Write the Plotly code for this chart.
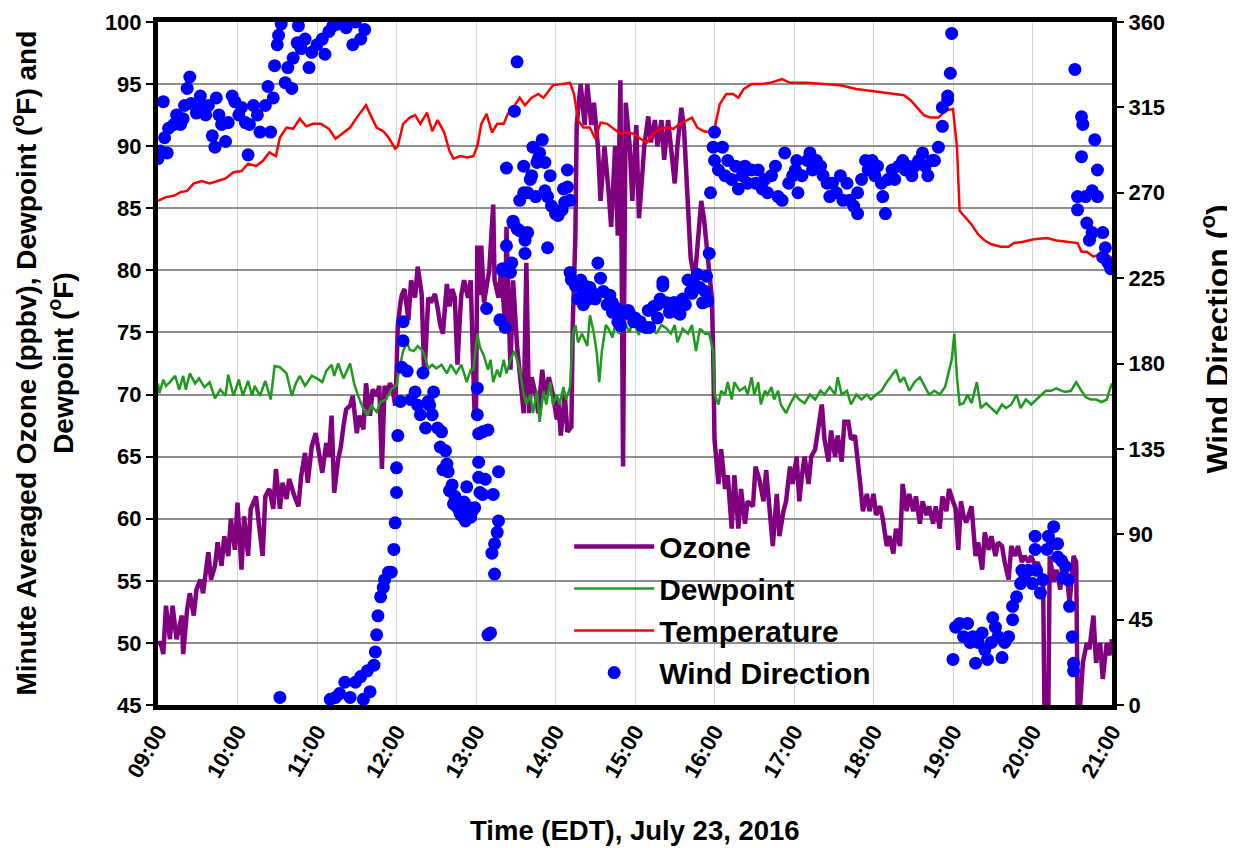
import pandas as pd
import plotly.graph_objects as go

BASE = pd.Timestamp("2016-07-23 09:00")

# ---------------- data (minutes after 09:00 EDT, value) ----------------
ozone_min = [0, 2, 4, 6, 9, 11, 14, 16, 18, 19, 22, 24, 27, 29, 32, 34, 36, 38, 40, 43, 45, 48, 50, 53, 55, 58,
             60, 63, 65, 68, 70, 74, 76, 79, 81, 84, 87, 89, 92, 94, 97, 99, 103, 106, 108, 111, 113, 116, 119,
             122, 124, 127, 129, 131, 133, 136, 138, 140, 142, 145, 147, 150, 152, 155, 157, 160, 162, 165, 167,
             169, 171, 173, 175, 177, 179, 180, 181, 183, 184, 186, 188, 189, 191, 193, 194, 196, 198, 199, 201,
             203, 204, 206, 209, 211, 213, 215, 218, 220, 222, 224, 226, 228, 229, 231, 234, 236, 238, 239, 240,
             241, 243, 244, 246, 248, 250, 253, 254, 257, 259, 262, 263, 266, 268, 271, 273, 276, 278, 280, 282,
             285, 287, 290, 292, 295, 298, 301, 302, 304, 307, 309, 312, 313, 315, 316, 319, 322, 324, 327, 329,
             332, 334, 337, 340, 342, 345, 347, 349, 350, 351, 352, 353, 356, 358, 361, 363, 365, 367, 370, 372,
             375, 377, 380, 382, 385, 387, 390, 392, 395, 397, 400, 402, 405, 407, 410, 412, 415, 418, 419, 420,
             423, 425, 428, 430, 433, 435, 438, 440, 443, 445, 449, 451, 454, 457, 459, 462, 464, 467, 469, 472,
             474, 477, 479, 482, 484, 486, 488, 491, 493, 496, 498, 501, 503, 506, 508, 511, 513, 516, 518, 521,
             523, 526, 530, 532, 535, 537, 540, 542, 545, 547, 550, 552, 555, 557, 560, 562, 565, 567, 570, 572,
             575, 577, 580, 582, 585, 587, 590, 592, 595, 597, 600, 602, 604, 606, 608, 610, 614, 617, 619, 622,
             624, 627, 629, 632, 634, 637, 639, 642, 644, 647, 649, 652, 654, 657, 659, 662, 664, 668, 669, 670,
             672, 673, 676, 678, 681, 683, 686, 688, 691, 693, 694, 696, 698, 701, 703, 706, 708, 711, 713, 716,
             718, 720]
ozone_val = [50.0, 50.0, 49.1, 53.0, 50.3, 53.0, 50.3, 51.5, 52.2, 49.1, 52.7, 54.0, 52.2, 54.3, 55.1, 54.0, 55.5,
             57.3, 55.1, 56.2, 58.1, 56.2, 58.6, 57.0, 60.0, 57.5, 61.3, 55.9, 60.2, 57.0, 60.8, 61.8, 59.7, 57.0,
             61.8, 62.4, 60.8, 64.0, 60.8, 62.9, 61.6, 63.2, 61.8, 61.0, 63.4, 65.3, 62.9, 65.8, 66.9, 65.0, 63.7,
             66.1, 65.0, 68.3, 62.1, 64.8, 65.8, 67.5, 68.8, 69.1, 69.9, 66.9, 68.3, 67.2, 70.9, 68.3, 70.4, 69.9,
             70.7, 64.0, 70.7, 70.0, 70.9, 70.5, 69.1, 71.7, 75.6, 77.4, 78.0, 78.5, 77.0, 76.0, 79.2, 78.0, 77.8,
             80.3, 79.0, 78.1, 71.4, 76.0, 77.8, 77.4, 78.1, 77.0, 75.6, 74.9, 78.9, 77.1, 78.5, 77.8, 72.4, 76.5,
             78.1, 79.2, 77.8, 79.2, 72.0, 68.1, 68.5, 82.0, 78.0, 82.0, 77.4, 78.5, 80.0, 85.3, 79.2, 77.8, 80.0,
             75.6, 83.5, 72.0, 79.2, 73.9, 72.0, 68.5, 80.6, 68.5, 71.4, 70.0, 68.5, 72.0, 70.0, 71.4, 70.0, 68.0,
             69.6, 66.7, 70.0, 67.0, 67.4, 75.6, 82.8, 91.7, 95.0, 91.7, 95.0, 91.7, 93.5, 90.0, 85.6, 90.0, 86.4,
             83.5, 90.0, 82.8, 95.3, 80.0, 64.2, 80.0, 93.5, 90.0, 85.6, 91.7, 84.2, 87.0, 90.0, 92.4, 90.3, 92.1,
             90.0, 92.1, 88.9, 92.1, 90.0, 87.0, 90.0, 93.1, 91.4, 83.9, 81.0, 79.2, 81.4, 85.6, 84.2, 80.6, 77.8,
             73.5, 66.4, 62.8, 65.6, 62.4, 63.5, 59.2, 63.5, 59.2, 62.4, 59.6, 61.4, 61.0, 64.2, 63.1, 61.4, 63.9,
             60.0, 57.8, 62.0, 58.6, 60.6, 61.4, 64.2, 62.8, 65.0, 61.4, 63.5, 65.0, 62.8, 65.0, 65.6, 67.1, 69.2,
             66.4, 64.6, 67.1, 65.0, 66.7, 64.6, 67.8, 67.8, 66.4, 66.7, 62.8, 60.6, 62.0, 60.6, 62.0, 60.3, 61.0,
             60.0, 57.8, 58.6, 57.2, 59.2, 57.8, 62.8, 60.6, 62.0, 60.6, 61.8, 59.6, 61.4, 60.3, 61.0, 59.6, 61.0,
             59.2, 61.8, 60.6, 62.4, 61.4, 60.8, 57.5, 61.4, 60.2, 59.7, 61.0, 57.0, 58.1, 55.9, 58.9, 57.5, 58.6,
             57.0, 58.1, 57.8, 56.5, 55.1, 57.8, 57.0, 57.8, 56.5, 57.0, 56.5, 57.0, 56.2, 56.5, 54.9, 45.0, 45.0,
             45.0, 57.0, 54.9, 55.9, 54.3, 57.0, 55.4, 53.2, 57.0, 56.5, 45.0, 45.0, 48.4, 50.0, 49.5, 52.2, 48.4,
             50.0, 47.1, 50.0, 49.0, 50.3]

dew_min = [0, 1, 4, 6, 9, 13, 16, 19, 21, 24, 28, 31, 35, 39, 43, 47, 51, 53, 57, 61, 64, 68, 71, 73, 77, 81, 85,
           88, 92, 97, 101, 104, 107, 111, 116, 120, 124, 127, 131, 133, 136, 140, 145, 148, 151, 154, 158, 161,
           165, 168, 172, 176, 180, 182, 185, 188, 190, 193, 196, 200, 204, 207, 210, 214, 218, 221, 225, 229,
           233, 236, 238, 240, 241, 243, 246, 249, 251, 253, 256, 258, 261, 263, 266, 269, 273, 276, 278, 281,
           283, 286, 288, 291, 293, 296, 298, 301, 303, 306, 308, 311, 313, 315, 317, 320, 324, 326, 329, 331,
           333, 335, 338, 340, 343, 345, 348, 350, 353, 356, 358, 361, 363, 365, 369, 373, 376, 380, 384, 387,
           390, 392, 396, 400, 403, 406, 409, 413, 416, 419, 420, 423, 425, 428, 430, 433, 435, 439, 443, 445,
           448, 450, 453, 455, 458, 460, 463, 465, 468, 470, 474, 477, 481, 484, 488, 492, 496, 500, 503, 507,
           511, 513, 516, 520, 523, 527, 531, 535, 538, 542, 546, 550, 553, 557, 560, 563, 567, 571, 575, 579,
           582, 586, 590, 594, 596, 599, 601, 603, 605, 608, 611, 614, 618, 621, 625, 629, 633, 637, 640, 644,
           648, 651, 655, 659, 663, 667, 670, 674, 678, 682, 685, 689, 693, 697, 700, 704, 708, 712, 716, 718, 720]
dew_val = [70.9, 70.1, 71.2, 70.7, 71.0, 71.5, 70.4, 71.5, 70.4, 71.7, 70.9, 71.3, 70.6, 71.0, 69.7, 70.4, 69.9,
           71.6, 69.9, 71.2, 69.9, 71.1, 69.9, 70.7, 69.9, 71.1, 69.6, 72.3, 72.2, 71.7, 69.9, 70.9, 71.5, 70.7,
           71.5, 71.3, 71.0, 71.9, 72.4, 71.5, 72.5, 71.3, 72.5, 70.9, 69.9, 69.1, 68.3, 69.1, 68.6, 69.4, 69.6,
           70.4, 70.7, 72.0, 73.5, 74.2, 73.6, 73.5, 73.9, 73.5, 72.1, 72.4, 72.1, 72.4, 71.7, 72.4, 71.7, 72.4,
           71.0, 72.0, 72.0, 74.2, 74.9, 73.8, 73.1, 72.0, 72.8, 71.0, 72.0, 71.4, 72.8, 71.7, 72.8, 73.5, 72.0,
           70.0, 69.2, 70.0, 68.5, 70.3, 67.8, 70.3, 69.2, 71.0, 69.2, 70.0, 69.2, 70.6, 69.6, 70.6, 74.9, 75.6,
           74.2, 74.9, 73.9, 76.4, 74.9, 73.5, 71.0, 73.5, 75.6, 75.3, 74.6, 75.6, 74.9, 75.3, 75.6, 75.0, 76.0,
           75.3, 74.8, 76.0, 75.3, 75.6, 74.9, 75.6, 75.3, 74.9, 75.6, 74.2, 75.3, 74.9, 75.6, 73.5, 75.3, 74.9,
           74.9, 73.5, 70.0, 69.2, 70.3, 70.0, 71.0, 69.6, 71.0, 70.3, 70.6, 70.0, 71.4, 70.0, 71.0, 69.2, 70.3,
           70.0, 70.6, 69.6, 70.3, 69.2, 68.5, 69.2, 70.0, 69.6, 69.3, 70.0, 69.6, 70.3, 70.0, 70.6, 70.0, 71.4,
           70.0, 70.3, 69.2, 70.0, 69.6, 70.0, 69.6, 70.0, 70.3, 71.0, 71.4, 72.0, 71.0, 71.4, 70.3, 71.0, 71.4,
           70.6, 70.0, 70.3, 70.0, 70.6, 71.4, 72.8, 74.9, 71.4, 69.2, 69.3, 70.0, 69.3, 71.0, 68.9, 69.3, 68.9,
           68.5, 69.2, 68.9, 69.2, 70.0, 68.9, 69.6, 69.2, 69.6, 70.0, 70.3, 70.3, 70.5, 70.3, 70.2, 70.3, 71.0,
           70.3, 69.8, 69.6, 69.6, 69.4, 69.6, 70.3, 70.9]

temp_min = [0, 6, 12, 17, 22, 27, 33, 39, 45, 51, 57, 63, 68, 74, 79, 84, 89, 92, 97, 102, 107, 112, 117, 123, 129,
            134, 139, 145, 150, 154, 157, 160, 165, 170, 174, 179, 181, 185, 190, 194, 198, 203, 207, 211, 216,
            220, 223, 228, 233, 238, 241, 244, 248, 252, 256, 261, 264, 268, 273, 277, 282, 287, 291, 298, 305,
            311, 314, 317, 321, 326, 330, 334, 339, 344, 349, 354, 359, 364, 369, 374, 379, 384, 389, 394, 399,
            403, 407, 412, 417, 420, 424, 429, 434, 438, 442, 448, 455, 462, 471, 477, 490, 502, 515, 527, 540,
            553, 563, 568, 573, 578, 583, 589, 595, 600, 603, 605, 609, 614, 619, 624, 629, 636, 642, 646, 653,
            661, 671, 678, 686, 694, 697, 701, 706, 711, 716, 720]
temp_val = [85.6, 85.9, 86.0, 86.3, 86.4, 87.0, 87.2, 87.0, 87.2, 87.4, 87.9, 88.0, 88.6, 88.4, 88.8, 89.5, 89.2,
            90.7, 91.5, 91.4, 92.2, 91.6, 91.8, 91.8, 91.4, 90.6, 91.0, 91.5, 92.3, 92.9, 93.3, 92.6, 91.5, 91.2,
            90.7, 89.8, 90.0, 91.8, 92.3, 92.5, 91.8, 92.7, 91.2, 92.1, 91.1, 89.6, 89.0, 89.2, 89.1, 89.2, 90.0,
            91.8, 92.6, 91.1, 91.8, 91.8, 92.6, 93.1, 93.9, 93.3, 93.9, 94.2, 93.9, 94.9, 95.0, 95.1, 94.2, 92.1,
            91.5, 91.5, 90.6, 91.9, 91.8, 91.4, 91.0, 91.1, 91.0, 90.6, 90.3, 91.0, 91.4, 91.5, 91.4, 91.8, 92.1,
            92.3, 91.5, 91.2, 91.1, 91.4, 93.4, 94.2, 94.2, 93.9, 94.6, 95.0, 95.0, 95.1, 95.4, 95.1, 95.1, 95.0,
            94.9, 94.6, 94.4, 94.2, 94.1, 93.7, 93.1, 92.5, 92.3, 92.3, 92.9, 93.0, 89.9, 84.8, 84.3, 83.7, 82.9,
            82.4, 82.1, 81.9, 81.9, 82.2, 82.3, 82.5, 82.6, 82.4, 82.3, 82.2, 81.5, 81.5, 81.1, 81.3, 81.3, 81.0]

wind_min = [0, 2, 4, 5, 7, 8, 12, 14, 17, 19, 20, 22, 24, 25, 29, 32, 34, 36, 38, 41, 43, 44, 46, 48, 51, 53, 56,
            58, 61, 63, 66, 68, 69, 72, 75, 77, 81, 83, 85, 87, 88, 90, 91, 93, 96, 98, 101, 102, 105, 106, 108,
            111, 114, 116, 120, 124, 126, 129, 132, 136, 142, 147, 149, 153, 156,
            92, 130, 134, 137, 141, 145, 149, 153, 155, 158, 160, 163, 164, 165, 166, 168, 170, 171, 174, 176,
            178, 179, 180, 180, 181, 183, 184, 185, 185,
            188, 191, 194, 196, 198, 200, 202, 204, 205, 207, 208, 211, 213, 214, 215, 217, 218, 219, 220, 222,
            223, 224, 226, 228, 229, 231, 232, 233, 235, 236, 237, 239, 241, 241, 242, 242, 242, 243, 245, 245,
            247, 248, 249, 249, 251, 252, 253, 254, 254, 256, 257, 257, 258, 260, 260, 262, 263, 263, 266, 267,
            268, 268, 269, 271, 271, 273, 273, 276, 276, 277, 277, 279, 279, 281, 282, 283, 285, 286, 287, 288,
            290, 292, 292, 294, 294, 296, 297, 300, 302, 305, 306, 307, 309, 309, 311, 311, 312, 315, 316, 317,
            319, 320, 321, 322, 325, 326, 328, 330, 332, 334, 336, 339, 341, 343, 343, 346, 347, 349, 351, 353,
            355, 356, 359, 360, 362, 364, 365, 368, 370, 371, 374, 377, 377, 379, 381, 381, 384, 386, 389, 390,
            392, 394, 396, 398, 400, 402, 403, 404, 407, 409, 411, 413, 414, 415, 416, 417, 419, 420, 420, 423,
            426, 428, 430, 433, 436, 438, 441, 443, 445, 448, 451, 453, 456, 458, 460, 463, 466, 468, 471, 473,
            476, 479, 481, 482, 483, 486, 490, 492, 494, 497, 500, 502, 505, 507, 509, 512, 515, 517, 520, 522,
            525, 528, 528, 531, 534, 536, 539, 541, 543, 546, 547, 549, 551, 554, 556, 559, 562, 564, 566, 569,
            571, 574, 577, 579, 581, 584, 586, 589, 592, 592, 596, 596, 598, 599,
            600, 602, 605, 608, 611, 613, 615, 617, 619, 622, 624, 626, 629, 630, 632, 634, 637, 639, 642, 645,
            645, 648, 651, 652, 654, 657, 660, 662, 662, 663, 666, 668, 671, 672, 675, 676, 679, 679, 682, 683,
            685, 687, 688, 690, 691, 691,
            692, 694, 694, 697, 697, 698, 700, 701, 703, 705, 705, 707, 709, 709, 713, 713, 715, 717, 719]
wind_deg = [288, 292, 318, 299, 291, 304, 306, 311, 306, 309, 316, 325, 331, 317, 312, 321, 316, 311, 316, 300, 294,
            320, 311, 306, 297, 307, 321, 318, 311, 315, 307, 290, 306, 316, 311, 302, 316, 326, 302, 320, 337, 348,
            353, 359, 328, 336, 325, 341, 349, 358, 346, 351, 336, 344, 348, 351, 343, 355, 358, 359, 357, 348,
            360, 351, 356,
            4, 3, 4, 6, 12, 4, 12, 15, 3, 18, 7, 21, 28, 37, 47, 57, 62, 66, 70, 70, 82, 96, 112, 125, 142, 160,
            178, 192, 202,
            176, 161, 165, 158, 153, 175, 146, 160, 158, 153, 165, 146, 136, 144, 124, 134, 127, 123, 113, 116,
            106, 110, 104, 101, 100, 107, 97, 115, 104, 99, 102, 104, 153, 167, 143, 128, 120, 112, 144, 111,
            119, 209, 145, 37, 38, 80, 111, 85, 69, 91, 97, 123, 203, 229, 230, 199, 283, 242, 228, 233, 254,
            255, 313, 339, 251, 266, 250, 284, 270, 238, 245, 249, 270, 277, 279, 294, 268, 286, 288, 291, 298,
            271, 286, 241, 268, 279, 263, 259, 258, 261, 272, 265, 282, 273, 266, 228, 224, 221, 223, 214, 224,
            219, 211, 221, 214, 220, 217, 214, 233, 225, 218, 211, 216, 207, 212, 209, 202, 200, 207, 207, 208,
            206, 202, 204, 202, 202, 200, 199, 208, 199, 210, 204, 211, 214, 223, 221, 212, 207, 212, 212, 207,
            206, 214, 211, 224, 218, 217, 223, 227, 220, 212, 218, 226, 213, 238, 270, 294, 302, 287, 282,
            294, 279, 287, 277, 284, 272, 279, 284, 275, 282, 275, 282, 272, 277, 270, 279, 284, 268, 266, 291,
            275, 279, 282, 287, 270, 279, 287, 291, 282, 287, 284, 279, 275, 268, 275, 270, 279, 266, 275, 266,
            263, 259, 270, 277, 287, 282, 287, 279, 284, 275, 268, 259, 277, 282, 277, 284, 287, 282, 284, 279,
            284, 287, 291, 284, 279, 287, 287, 294, 305, 315, 319, 321, 333, 354,
            24, 41, 43, 36, 43, 33, 36, 22, 33, 38, 29, 24, 33, 46, 41, 36, 25, 33, 36, 45, 52, 57, 64, 71, 67,
            71, 64, 89, 82, 71, 59, 66, 82, 89, 85, 94, 78, 85, 76, 67, 73, 66, 52, 36, 22, 18,
            335, 268, 261, 310, 289, 306, 268, 254, 245, 271, 249, 298, 282, 268, 249, 236, 241, 233, 230]

x_ticks = ["09:00", "10:00", "11:00", "12:00", "13:00", "14:00", "15:00", "16:00", "17:00", "18:00", "19:00",
           "20:00", "21:00"]


def to_time(mins):
    return BASE + pd.to_timedelta(pd.Series(mins, dtype=float), unit="min")


FONT = "Liberation Sans, Arial, sans-serif"

fig = go.Figure()
fig.add_trace(go.Scatter(x=to_time(ozone_min), y=ozone_val, mode="lines", name="Ozone",
                         line=dict(color="#800080", width=4.5)))
fig.add_trace(go.Scatter(x=to_time(dew_min), y=dew_val, mode="lines", name="Dewpoint",
                         line=dict(color="#1f9a1f", width=2.5)))
fig.add_trace(go.Scatter(x=to_time(temp_min), y=temp_val, mode="lines", name="Temperature",
                         line=dict(color="#ff0000", width=2.5)))
fig.add_trace(go.Scatter(x=to_time(wind_min), y=wind_deg, mode="markers", name="Wind Direction", yaxis="y2",
                         marker=dict(color="#0000ff", size=13)))

tick_vals = [BASE + pd.Timedelta(hours=h) for h in range(13)]

# page has an 8px body margin, so the figure is 8px smaller and margins shifted
fig.update_layout(
    width=1227, height=840,
    margin=dict(l=150, r=123, t=14, b=143, autoexpand=False),
    paper_bgcolor="white", plot_bgcolor="white",
    font=dict(family=FONT, color="black"),
    xaxis=dict(type="date", range=[tick_vals[0], tick_vals[-1]], tickvals=tick_vals, ticktext=x_ticks,
               tickangle=-60, tickfont=dict(size=22, weight="bold"), showgrid=True, gridcolor="#d4d4d4",
               gridwidth=1, showline=True, linecolor="black", linewidth=5, mirror=True, ticks="",
               zeroline=False, automargin=False),
    yaxis=dict(range=[45, 100], dtick=5, tickfont=dict(size=22, weight="bold"), showgrid=True,
               gridcolor="#8e8e8e", gridwidth=1.5, showline=True, linecolor="black", linewidth=5, mirror=True,
               ticks="outside", ticklen=7, tickwidth=2, tickcolor="black", zeroline=False, automargin=False),
    yaxis2=dict(range=[0, 360], dtick=45, overlaying="y", side="right", showgrid=False,
                tickfont=dict(size=22, weight="bold"), ticks="outside", ticklen=11, tickwidth=2,
                tickcolor="black", showline=False, zeroline=False, automargin=False),
    legend=dict(x=0.431, y=0.27, xanchor="left", yanchor="top", bgcolor="rgba(0,0,0,0)",
                font=dict(size=30, weight="bold", family=FONT), itemwidth=80, tracegroupgap=0),
    annotations=[
        dict(text="Time (EDT), July 23, 2016", xref="paper", yref="paper", x=0.5, y=0, yshift=-125,
             xanchor="center", yanchor="middle", showarrow=False, font=dict(size=27.5, weight="bold")),
        dict(text="Minute Averaged Ozone (ppbv), Dewpoint (<sup>o</sup>F) and<br>Dewpoint (<sup>o</sup>F)",
             xref="paper", yref="paper", x=0, y=0.5, xshift=-116, xanchor="center", yanchor="middle",
             textangle=-90, showarrow=False, font=dict(size=28, weight="bold")),
        dict(text="Wind Direction (<sup>o</sup>)", xref="paper", yref="paper", x=1, y=0.535, xshift=103,
             xanchor="center", yanchor="middle", textangle=-90, showarrow=False,
             font=dict(size=32, weight="bold")),
    ],
)

fig.write_html("out.html")
